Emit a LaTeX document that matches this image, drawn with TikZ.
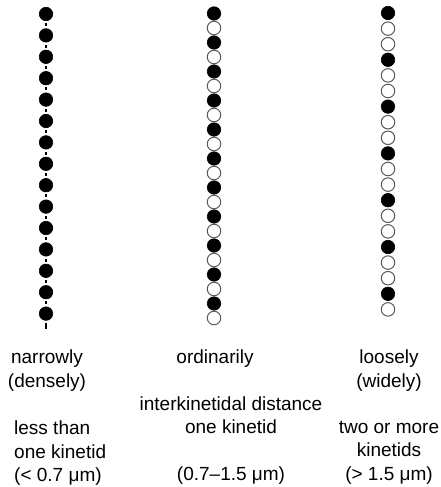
\documentclass[tikz,border=0pt]{standalone}
\usepackage{fontspec}
\setmainfont{Liberation Sans}
\usepackage{tikz}
\definecolor{rim}{HTML}{5A5A5A}

\begin{document}
\begin{tikzpicture}[
  x=1pt, y=-1pt,
  every node/.style={font=\fontsize{19}{23.5}\selectfont},
  kinetid/.style={circle, inner sep=0pt, minimum size=13.5pt},
  basal/.style={kinetid, fill=black, draw=black, line width=0.6pt},
  bare/.style={kinetid, fill=white, draw=rim, line width=1pt},
  link/.style={line width=1.1pt, shorten <=2.2pt, shorten >=2.2pt},
  caption/.style={align=center, inner sep=0pt, anchor=north}
]
  \useasboundingbox (0,0) rectangle (441,487);

  % narrowly spaced row
  \foreach \i in {1,...,15}
    \node[basal] (L\i) at (46, {14+(\i-1)*21.4}) {};
  \foreach \i [evaluate=\i as \j using int(\i+1)] in {1,...,14}
    \draw[link] (L\i) -- (L\j);
  \coordinate (Ltail) at (46,329);
  \draw[link, shorten >=0pt] (L15) -- (Ltail);

  % ordinarily spaced row
  \foreach \i in {1,3,...,21}
    \node[basal] (M\i) at (214, {13.5+(\i-1)*14.5}) {};
  \foreach \i in {2,4,...,22}
    \node[bare] (M\i) at (214, {13.5+(\i-1)*14.5}) {};

  % loosely spaced row
  \foreach \i in {1,4,...,19}
    \node[basal] (R\i) at (388, {13+(\i-1)*15.6}) {};
  \foreach \i in {2,3,5,6,8,9,11,12,14,15,17,18,20}
    \node[bare] (R\i) at (388, {13+(\i-1)*15.6}) {};

  % captions
  \node[caption] (narrow) at (47,350) {narrowly\\(densely)};
  \node[caption] (ordinary) at (215,350) {ordinarily};
  \node[caption] (loose) at (389,350) {loosely\\(widely)};
  \node[caption, anchor=north west, align=left] (lessthan) at (14,421)
    {less than\\one kinetid\\(< 0.7 μm)};
  \node[caption] (distance) at (231,396.5)
    {interkinetidal distance\\one kinetid\\[23.5pt](0.7–1.5 μm)};
  \node[caption] (twoormore) at (389,421)
    {two or more\\kinetids\\(> 1.5 μm)};
\end{tikzpicture}
\end{document}
